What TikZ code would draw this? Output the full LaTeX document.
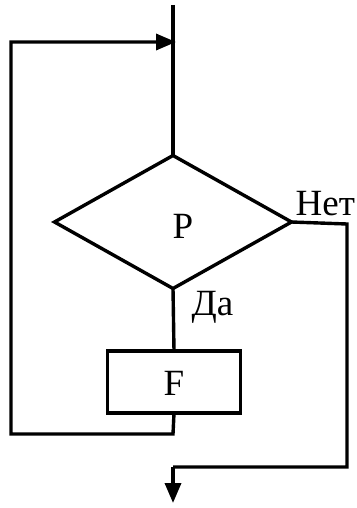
\documentclass[tikz,border=0pt]{standalone}
\usepackage{fontspec}
\setmainfont{Liberation Serif}
\usetikzlibrary{shapes.geometric,arrows.meta}
\begin{document}
\begin{tikzpicture}[x=1pt,y=-1pt,
  line width=3.4pt,
  every node/.style={font=\fontsize{37}{44}\selectfont},
  cond/.style={draw,diamond,minimum width=237pt,minimum height=133pt,inner sep=0pt,outer sep=0pt},
  proc/.style={draw,rectangle,minimum width=133pt,minimum height=62pt,inner sep=0pt,outer sep=0pt},
  lbl/.style={inner sep=0pt,anchor=base west},
  tip/.style={-{Triangle[length=20pt,width=16pt]}}]
\useasboundingbox (0,0) rectangle (356,508);
\coordinate (in) at (173,5);
\node[cond] (D) at (173,222) {};
\node[inner sep=0pt,anchor=base] (Ptxt) at (183,238) {P};
\node[proc] (F) at (174,382) {};
\node[inner sep=0pt,anchor=base] (Ftxt) at (174,395) {F};
\node[lbl] (net) at (294,215) {Нет};
\node[lbl] (da) at (190,315) {Да};
\coordinate (loopA) at (173,434);
\coordinate (loopB) at (11,434);
\coordinate (loopC) at (11,42);
\coordinate (join) at (176,42);
\coordinate (noA) at (347,224);
\coordinate (noB) at (347,467);
\coordinate (noC) at (173,467);
\coordinate (out) at (173,503);
\draw (in) -- (D.north);
\draw (D.south) -- (F.north);
\draw[tip] (F.south) -- (loopA) -- (loopB) -- (loopC) -- (join);
\draw (D.east) -- (noA) -- (noB) -- (noC);
\draw[tip] (noC) -- (out);
\end{tikzpicture}
\end{document}
